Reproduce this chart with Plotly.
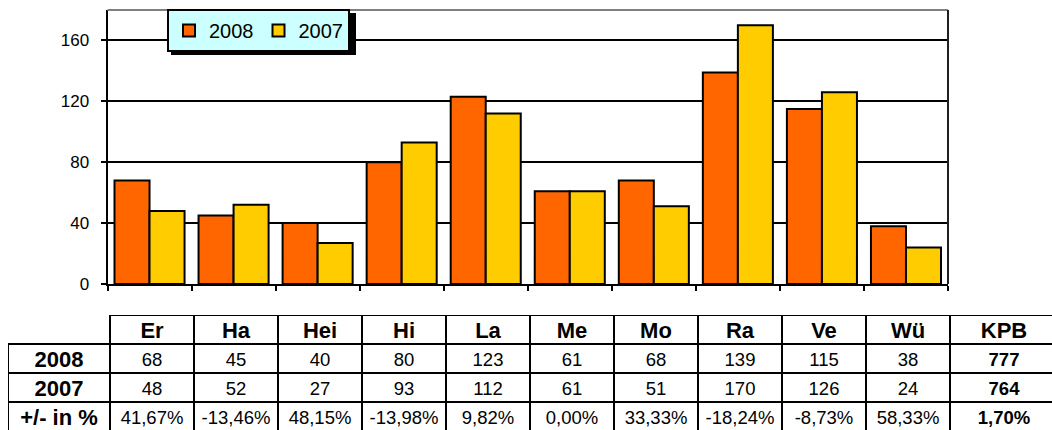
import plotly.graph_objects as go

# ---------------- data ----------------
categories = ["Er", "Ha", "Hei", "Hi", "La", "Me", "Mo", "Ra", "Ve", "Wü"]
values_2008 = [68, 45, 40, 80, 123, 61, 68, 139, 115, 38]
values_2007 = [48, 52, 27, 93, 112, 61, 51, 170, 126, 24]
change_pct = ["41,67%", "-13,46%", "48,15%", "-13,98%", "9,82%", "0,00%",
              "33,33%", "-18,24%", "-8,73%", "58,33%"]
total_label = "KPB"
total_2008 = 777
total_2007 = 764
total_change = "1,70%"
row_labels = ["2008", "2007", "+/- in %"]
y_ticks = [0, 40, 80, 120, 160]

# ---------------- layout constants ----------------
W, H = 1052, 430
FONT = "Arial, 'Liberation Sans', sans-serif"
ORANGE = "#FF6600"
YELLOW = "#FFCC00"

# table geometry (pixels)
TABLE_LEFT = 8
TABLE_TOP = 315
LABEL_W = 102
COL_W = 84
TOTAL_W = 108
ROW_H = 29
N_ROWS = 4
TEXT_DROP = 2.5  # caps sit slightly below row centre

def px_x(v):
    return v / W

def px_y(v):
    return 1 - v / H

fig = go.Figure()

fig.add_trace(go.Bar(
    x=categories, y=values_2008, name="2008",
    marker=dict(color=ORANGE, line=dict(color="black", width=2)),
    hoverinfo="x+y",
))
fig.add_trace(go.Bar(
    x=categories, y=values_2007, name="2007",
    marker=dict(color=YELLOW, line=dict(color="black", width=2)),
    hoverinfo="x+y",
))

# ---------------- table (drawn on hidden axes x2/y2, in pixel-like units) ----------------
col_widths = [LABEL_W] + [COL_W] * len(categories) + [TOTAL_W]
bounds = [0]
for w in col_widths:
    bounds.append(bounds[-1] + w)
centers = [(bounds[i] + bounds[i + 1]) / 2 for i in range(len(col_widths))]
row_top = [r * ROW_H for r in range(N_ROWS + 1)]

def row_y(r):
    return r * ROW_H + ROW_H / 2 + TEXT_DROP

tx, ty, tt, ts = [], [], [], []
header_texts = categories + [total_label]
for j, h in enumerate(header_texts):
    tx.append(centers[j + 1]); ty.append(row_y(0)); tt.append(f"<b>{h}</b>"); ts.append(22)
for r, lab in enumerate(row_labels):
    tx.append(centers[0]); ty.append(row_y(r + 1)); tt.append(f"<b>{lab}</b>"); ts.append(22)
for j, (a, b, p) in enumerate(zip(values_2008, values_2007, change_pct)):
    for r, v in enumerate([str(a), str(b), p]):
        tx.append(centers[j + 1]); ty.append(row_y(r + 1)); tt.append(v); ts.append(18.5)
for r, v in enumerate([str(total_2008), str(total_2007), total_change]):
    tx.append(centers[-1]); ty.append(row_y(r + 1)); tt.append(f"<b>{v}</b>"); ts.append(18.5)

fig.add_trace(go.Scatter(
    x=tx, y=ty, text=tt, mode="text",
    textposition="middle center",
    textfont=dict(family=FONT, size=ts, color="black"),
    xaxis="x2", yaxis="y2", showlegend=False, hoverinfo="skip",
    cliponaxis=False,
))

table_shapes = []
LW = 2
table_shapes.append(dict(type="line", xref="x2", yref="y2",
                         x0=bounds[1], x1=bounds[-1], y0=row_top[0], y1=row_top[0],
                         line=dict(color="black", width=LW)))
for r in range(1, N_ROWS + 1):
    table_shapes.append(dict(type="line", xref="x2", yref="y2",
                             x0=bounds[0], x1=bounds[-1], y0=row_top[r], y1=row_top[r],
                             line=dict(color="black", width=LW)))
table_shapes.append(dict(type="line", xref="x2", yref="y2",
                         x0=bounds[0], x1=bounds[0], y0=row_top[1], y1=row_top[-1],
                         line=dict(color="black", width=LW)))
for b in bounds[1:]:
    table_shapes.append(dict(type="line", xref="x2", yref="y2",
                             x0=b, x1=b, y0=row_top[0], y1=row_top[-1],
                             line=dict(color="black", width=LW)))

table_span_px = W - TABLE_LEFT
table_h_px = H - TABLE_TOP

fig.update_layout(
    width=W, height=H, autosize=False,
    margin=dict(l=0, r=0, t=0, b=0, pad=0),
    paper_bgcolor="white",
    plot_bgcolor="white",
    barmode="group",
    bargap=14 / 84,
    bargroupgap=0,
    font=dict(family=FONT, color="black"),
    showlegend=True,
    legend=dict(
        orientation="h",
        x=px_x(167), y=px_y(9), xanchor="left", yanchor="top",
        bgcolor="#CCFFFF", bordercolor="black", borderwidth=2,
        font=dict(family=FONT, size=20, color="black"),
        traceorder="normal",
    ),
    xaxis=dict(
        domain=[px_x(107.5), px_x(948)],
        type="category",
        showticklabels=False,
        tickson="boundaries",
        ticks="outside", ticklen=5, tickwidth=2, tickcolor="black",
        showline=True, linecolor="black", linewidth=2,
        showgrid=False, automargin=False,
    ),
    yaxis=dict(
        domain=[px_y(284), px_y(10)],
        range=[0, 180],
        tickvals=y_ticks,
        ticks="outside", ticklen=5, tickwidth=2, tickcolor="black",
        ticklabelstandoff=8,
        tickfont=dict(family=FONT, size=17, color="black"),
        showline=True, linecolor="black", linewidth=2,
        showgrid=True, gridcolor="black", gridwidth=2,
        zeroline=False, automargin=False,
    ),
    xaxis2=dict(
        domain=[px_x(TABLE_LEFT), 1.0], range=[0, table_span_px],
        visible=False, fixedrange=True, anchor="y2", automargin=False,
    ),
    yaxis2=dict(
        domain=[0, px_y(TABLE_TOP)], range=[table_h_px, 0],
        visible=False, fixedrange=True, anchor="x2", automargin=False,
    ),
    shapes=[
        dict(type="line", xref="x domain", yref="y domain", x0=0, x1=1, y0=1, y1=1,
             line=dict(color="#808080", width=2)),
        dict(type="line", xref="x domain", yref="y domain", x0=1, x1=1, y0=0, y1=1,
             line=dict(color="#202020", width=2)),
        dict(type="rect", xref="paper", yref="paper",
             x0=px_x(171), x1=px_x(356), y0=px_y(55), y1=px_y(13),
             fillcolor="black", line=dict(width=0), layer="above"),
    ] + table_shapes,
)

post = (
    "document.body.style.margin='0';"
    "document.body.style.overflow='hidden';"
    "var gd=document.getElementById('{plot_id}');"
    "Plotly.relayout(gd,{width:1052,height:430,autosize:false});"
)
fig.write_html("out.html", post_script=post,
               config={"responsive": False, "displayModeBar": False})
